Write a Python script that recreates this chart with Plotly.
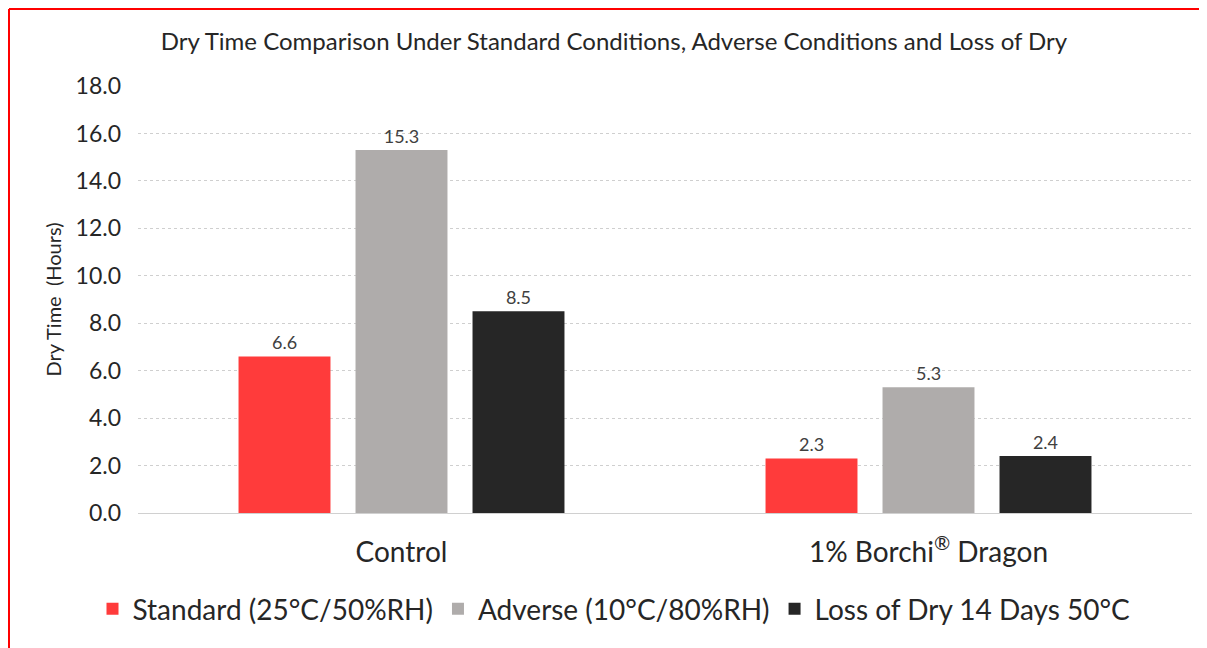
import plotly.graph_objects as go

categories = ["Control", "1% Borchi<sup>®</sup> Dragon"]
series_names = ["Standard (25°C/50%RH)", "Adverse (10°C/80%RH)", "Loss of Dry 14 Days 50°C"]
standard = [6.6, 2.3]
adverse = [15.3, 5.3]
loss_of_dry = [8.5, 2.4]
colors = ["#FF3B3B", "#AFACAB", "#262626"]

FONT = "Lato"
W, H = 1199, 640
L, R, T, B = 130, 15, 78, 135
PW, PH = W - L - R, H - T - B

fig = go.Figure()
for name, vals, col in zip(series_names, [standard, adverse, loss_of_dry], colors):
    fig.add_trace(go.Bar(
        x=categories, y=vals, name=name,
        marker=dict(color=col, line=dict(width=0)),
        text=[f"{v:.1f}" for v in vals], textposition="outside",
        textfont=dict(size=18, color="#404040", family=FONT),
        cliponaxis=False,
    ))

fig.update_layout(
    width=W, height=H,
    margin=dict(l=L, r=R, t=T, b=B),
    paper_bgcolor="white", plot_bgcolor="white",
    barmode="group", bargap=0.334, bargroupgap=0.214,
    font=dict(family=FONT, color="#262626"),
    title=dict(text="Dry Time Comparison Under Standard Conditions, Adverse Conditions and Loss of Dry",
               x=606 / W, xanchor="center", y=1 - 34 / H, yanchor="middle",
               font=dict(size=24, family=FONT, color="#262626")),
    legend=dict(orientation="h", x=(606 - L) / PW, xanchor="center",
                y=(PH + T - 601) / PH, yanchor="middle",
                font=dict(size=28, family=FONT, color="#262626"),
                traceorder="normal", itemwidth=30),
    showlegend=True,
)
fig.update_yaxes(range=[0, 18], dtick=2, tickformat=".1f",
                 showgrid=True, gridcolor="#CFCFCF", griddash="dot", gridwidth=1,
                 zeroline=True, zerolinecolor="#D0D0D0", zerolinewidth=1,
                 showline=False, ticks="", ticklabelstandoff=16,
                 tickfont=dict(size=23, family=FONT, color="#262626"),
                 title=dict(text="Dry Time\u00a0 (Hours)", font=dict(size=20, family=FONT, color="#262626"),
                            standoff=8))
fig.update_xaxes(showline=False, ticks="", ticklabelstandoff=20,
                 tickfont=dict(size=28, family=FONT, color="#262626"))

# red frame (top and left edges)
fig.add_shape(type="line", xref="paper", yref="paper",
              x0=(1 - L) / PW, x1=(W + 5 - L) / PW,
              y0=(PH + T - 1) / PH, y1=(PH + T - 1) / PH,
              line=dict(color="#FF0000", width=2))
fig.add_shape(type="line", xref="paper", yref="paper",
              x0=(1 - L) / PW, x1=(1 - L) / PW,
              y0=(PH + T - 1) / PH, y1=(PH + T - H - 5) / PH,
              line=dict(color="#FF0000", width=2))

fig.write_html("out.html")
